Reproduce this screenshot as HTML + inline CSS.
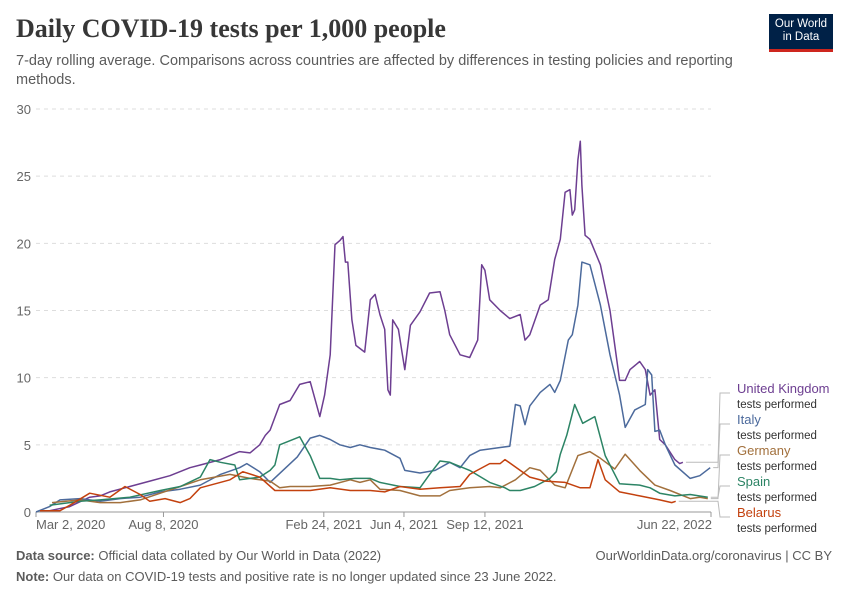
<!DOCTYPE html>
<html><head><meta charset="utf-8">
<style>
body{margin:0;background:#fff;font-family:"Liberation Sans",sans-serif;}
#wrap{position:relative;width:850px;height:600px;overflow:hidden;}
</style></head>
<body>
<div id="wrap">
<div style="position:absolute;left:16px;top:14px;font-family:'Liberation Serif',serif;font-size:26px;font-weight:bold;color:#373737;">Daily COVID-19 tests per 1,000 people</div>
<div style="position:absolute;left:16px;top:52px;width:740px;font-size:14.5px;line-height:19px;color:#5b5b5b;">7-day rolling average. Comparisons across countries are affected by differences in testing policies and reporting methods.</div>
<div style="position:absolute;left:769px;top:14px;width:64px;height:38px;background:#002147;border-bottom:3px solid #ce261e;color:#fff;font-size:11.5px;line-height:13px;text-align:center;padding-top:4px;box-sizing:border-box;">Our World<br>in Data</div>
<svg id="chart" width="850" height="600" style="position:absolute;left:0;top:0;"></svg>
<div style="position:absolute;left:16px;top:548px;font-size:13px;color:#5b5b5b;"><b>Data source:</b> Official data collated by Our World in Data (2022)</div>
<div style="position:absolute;right:18px;top:548px;font-size:13px;color:#5b5b5b;">OurWorldinData.org/coronavirus | CC BY</div>
<div style="position:absolute;left:16px;top:569px;font-size:13px;color:#5b5b5b;"><b>Note:</b> Our data on COVID-19 tests and positive rate is no longer updated since 23 June 2022.</div>
</div>
<script>
const yTicks=[0,5,10,15,20,25,30];
const xTickDays=[0,159,359,459,560,842];
const xTickLabels=["Mar 2, 2020","Aug 8, 2020","Feb 24, 2021","Jun 4, 2021","Sep 12, 2021","Jun 22, 2022"];
const seriesNames=["United Kingdom","Italy","Germany","Spain","Belarus"];
const seriesColors=["#6d3e91","#4c6a9c","#a2703c","#2c8465","#c3410e"];
const ukDays=[17,42,67,80,92,117,142,167,192,205,230,254,267,279,286,292,304,317,329,342,354,360,367,373,379,383,386,389,394,399,410,417,423,429,435,439,442,445,452,457,460,467,479,491,504,510,516,529,541,551,556,560,566,579,591,604,610,616,629,639,647,654,660,666,669,672,676,679,681,685,691,704,716,728,735,741,753,760,766,772,778,785,797,803,807];
const ukVals=[0.1,0.4,1.1,1.2,1.5,1.9,2.3,2.7,3.3,3.5,3.9,4.5,4.4,5.0,5.7,6.1,8.0,8.3,9.5,9.7,7.1,8.7,11.7,19.9,20.2,20.5,18.6,18.6,14.3,12.4,11.9,15.8,16.2,14.7,13.6,9.1,8.7,14.3,13.6,11.7,10.6,13.9,14.9,16.3,16.4,15.0,13.2,11.7,11.5,12.8,18.4,18.0,15.8,15.0,14.4,14.7,12.8,13.2,15.4,15.8,18.8,20.3,23.8,24.0,22.1,22.5,26.2,27.6,24.3,20.6,20.3,18.4,15.0,9.8,9.8,10.6,11.2,10.6,8.7,9.1,5.4,5.0,3.9,3.6,3.7];
const itDays=[0,17,30,55,80,105,130,155,180,205,230,254,263,279,292,326,342,354,367,379,392,404,417,435,454,460,479,498,516,529,541,554,579,591,598,604,610,616,629,641,647,654,664,669,676,681,691,704,716,728,735,747,760,763,768,772,778,785,797,816,828,841];
const itVals=[0,0.4,0.9,1.0,0.8,1.0,1.1,1.5,1.7,2.0,2.8,3.3,3.6,3.0,2.2,4.1,5.5,5.7,5.4,5.0,4.8,5.0,4.8,4.6,4.0,3.1,2.9,3.1,3.7,3.3,4.2,4.6,4.8,4.9,8.0,7.9,6.5,7.9,8.9,9.5,8.9,9.8,12.8,13.2,15.4,18.6,18.4,15.4,11.7,8.7,6.3,7.6,8.0,10.6,10.2,6.0,6.1,5.0,3.5,2.5,2.7,3.3];
const deDays=[20,55,80,105,130,155,180,205,242,267,292,304,317,342,367,392,404,417,429,454,479,504,516,541,566,579,598,616,629,647,660,676,691,704,722,735,753,772,791,816,828,838];
const deVals=[0.7,0.9,0.7,0.7,0.9,1.4,1.9,2.4,2.8,2.5,2.3,1.8,1.9,1.9,2.0,2.4,2.2,2.4,1.7,1.6,1.2,1.2,1.6,1.8,1.9,1.8,2.4,3.3,3.1,2.0,1.8,4.2,4.5,4.0,3.2,4.3,3.1,2.0,1.6,1.0,1.1,1.0];
const esDays=[17,55,80,117,155,180,205,217,230,248,254,279,292,298,304,329,342,354,367,379,398,417,429,454,479,491,504,516,541,566,585,591,604,622,641,649,654,662,672,682,697,710,728,753,766,778,797,816,838];
const esVals=[0.5,0.8,0.9,1.1,1.6,1.9,2.6,3.9,3.7,3.5,2.4,2.6,3.1,3.5,5.0,5.6,4.2,2.5,2.5,2.4,2.5,2.5,2.2,1.9,1.8,2.8,3.8,3.7,3.1,2.2,1.8,1.6,1.6,1.9,2.5,3.0,4.3,5.7,8.0,6.6,7.1,4.2,2.1,2.0,1.8,1.4,1.2,1.3,1.1];
const byDays=[5,30,42,67,92,111,130,142,161,180,192,205,242,258,279,298,317,342,367,392,417,435,454,479,504,529,541,566,579,585,604,616,635,660,679,691,701,710,728,753,778,793,798];
const byVals=[0.1,0.1,0.5,1.4,1.1,1.9,1.3,0.8,1.0,0.7,1.0,1.8,2.4,3.0,2.6,1.6,1.6,1.6,1.8,1.6,1.6,1.5,1.9,1.7,1.8,1.9,2.8,3.6,3.6,3.9,3.1,2.6,2.3,2.2,1.8,1.8,3.9,2.4,1.5,1.2,0.9,0.7,0.8];
const labelY=[389,420,451,482,513];

const svg=document.getElementById('chart');
const NS='http://www.w3.org/2000/svg';
const X0=36,X1=711,Y0=512,Y1=109,DMAX=842,VMAX=30;
const xs=d=>X0+d/DMAX*(X1-X0);
const ys=v=>Y0-v/VMAX*(Y0-Y1);
function mk(tag,attrs){const e=document.createElementNS(NS,tag);for(const k in attrs)e.setAttribute(k,attrs[k]);svg.appendChild(e);return e;}
yTicks.forEach(t=>{
  if(t>0){const g=mk('line',{x1:X0,x2:X1,y1:ys(t),y2:ys(t),stroke:'#ddd','stroke-dasharray':'4,4'});
  
  }
  const tx=mk('text',{x:31,y:ys(t)+5,'text-anchor':'end','font-size':13,fill:'#666','font-family':'Liberation Sans, sans-serif'});
  tx.textContent=t;
  
  
});
const ax=mk('line',{x1:X0,x2:X1,y1:Y0,y2:Y0,stroke:'#999'});


xTickDays.forEach((d,i)=>{
  const tk=mk('line',{x1:xs(d),x2:xs(d),y1:Y0,y2:Y0+5,stroke:'#999'});
  
  
  const anchor=i==0?'start':(i==xTickDays.length-1?'end':'middle');
  const tx=mk('text',{x:i==0?xs(d):(i==xTickDays.length-1?xs(d)+1:xs(d)),y:529,'text-anchor':anchor,'font-size':13,fill:'#666','font-family':'Liberation Sans, sans-serif'});
  tx.textContent=xTickLabels[i];
  
  
});
const days=[ukDays,itDays,deDays,esDays,byDays];
const vals=[ukVals,itVals,deVals,esVals,byVals];
for(let s=0;s<5;s++){
  const pts=days[s].map((d,i)=>xs(d).toFixed(1)+','+ys(vals[s][i]).toFixed(1)).join(' ');
  const pl=mk('polyline',{points:pts,fill:'none',stroke:seriesColors[s],'stroke-width':1.5,'stroke-linejoin':'round'});
  
  
  const dl=days[s], lastX=xs(dl[dl.length-1]), lastY=ys(vals[s][vals[s].length-1]);
  const ly=labelY[s]+10-12*0;
  const c=mk('polyline',{points:`${lastX+3},${lastY} ${718+s*0},${lastY} ${720},${labelY[s]+4} ${730},${labelY[s]+4}`,fill:'none',stroke:'#bbb','stroke-width':1});
  
  
  const t1=mk('text',{x:737,y:labelY[s]+4,'font-size':13,fill:seriesColors[s],'font-family':'Liberation Sans, sans-serif'});
  t1.textContent=seriesNames[s];
  
  
  const t2=mk('text',{x:737,y:labelY[s]+19,'font-size':11.5,fill:'#333','font-family':'Liberation Sans, sans-serif'});
  t2.textContent='tests performed';
  
  
}
</script>
</body></html>
